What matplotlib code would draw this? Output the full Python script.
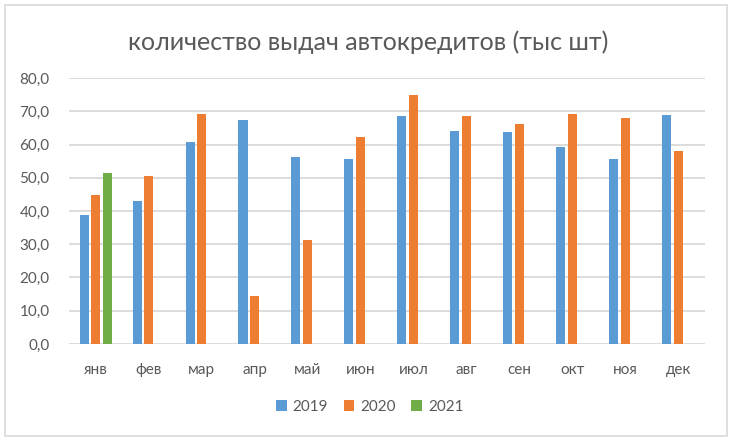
import numpy as np
import matplotlib
matplotlib.use("Agg")
import matplotlib.pyplot as plt
from matplotlib.patches import Rectangle
from matplotlib.ticker import FuncFormatter

months = ["янв", "фев", "мар", "апр", "май", "июн",
          "июл", "авг", "сен", "окт", "ноя", "дек"]
v2019 = [38.7, 42.9, 60.7, 67.3, 56.4, 55.5, 68.5, 64.0, 63.7, 59.4, 55.5, 68.8]
v2020 = [44.7, 50.4, 69.1, 14.3, 31.2, 62.2, 74.8, 68.5, 66.1, 69.1, 67.9, 58.2]
v2021 = [51.3]
years = ["2019", "2020", "2021"]
colors = ["#5B9BD5", "#ED7D31", "#70AD47"]

plt.rcParams["font.family"] = ["Lato", "DejaVu Sans"]
text_col = "#595959"

fig = plt.figure(figsize=(7.32, 4.41), dpi=100)
ax = fig.add_axes([0.0943, 0.22, 0.8687, 0.603])

x = np.arange(len(months))
width = 0.17
step = 0.217
series = [v2019, v2020, v2021]
for i, (vals, name, col) in enumerate(zip(series, years, colors)):
    ax.bar(x[:len(vals)] + (i - 1) * step, vals, width=width, color=col,
           label=name, zorder=3)

ax.set_xlim(-0.5, len(months) - 0.5)
ax.set_ylim(0, 80)
ax.set_yticks(np.arange(0, 81, 10))
ax.yaxis.set_major_formatter(FuncFormatter(lambda v, p: f"{v:.1f}".replace(".", ",")))
ax.set_xticks(x)
ax.set_xticklabels(months)
ax.grid(axis="y", color="#D9D9D9", linewidth=1.3, zorder=0)
for s in ax.spines.values():
    s.set_visible(False)
ax.tick_params(axis="both", length=0, colors=text_col, labelsize=11)
ax.tick_params(axis="y", pad=14)
ax.tick_params(axis="x", pad=14)

fig.text(0.503, 0.905, "количество выдач автокредитов (тыс шт)",
         ha="center", va="center", fontsize=18, color=text_col)

leg = fig.legend(loc="center", bbox_to_anchor=(0.505, 0.077), ncol=3,
                 frameon=False, fontsize=11, handlelength=0.7, handleheight=0.7,
                 columnspacing=1.0, handletextpad=0.4)
for t in leg.get_texts():
    t.set_color(text_col)

fig.patches.append(Rectangle((5 / 732, 5 / 441), 722 / 732, 431 / 441,
                             transform=fig.transFigure, fill=False,
                             edgecolor="#D9D9D9", linewidth=1.2))

fig.savefig("out.png", dpi=100)
